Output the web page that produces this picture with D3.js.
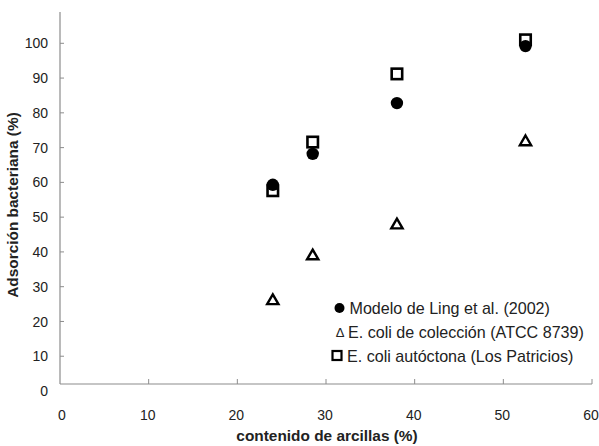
<!DOCTYPE html>
<html>
<head>
<meta charset="utf-8">
<script src="https://cdn.jsdelivr.net/npm/d3@7/dist/d3.min.js"></script>
<style>
  body { margin: 0; background: #fff; }
  text { font-family: "Liberation Sans", Arial, sans-serif; fill: #222; }
</style>
</head>
<body>
<div id="chart"></div>
<script>
// data
var arcilla = [24, 28.5, 38, 52.5];
var ling = [59.3, 68.2, 82.8, 99.2];
var atcc = [26.2, 39.1, 48, 71.9];
var patricios = [57.6, 71.6, 91.2, 101];
var xTicks = [0, 10, 20, 30, 40, 50, 60];
var yTicks = [0, 10, 20, 30, 40, 50, 60, 70, 80, 90, 100];
var seriesNames = ["Modelo de Ling et al. (2002)", "E. coli de colección (ATCC 8739)", "E. coli autóctona (Los Patricios)"];

var width = 599, height = 446;
var svg = d3.select("#chart").append("svg")
  .attr("width", width)
  .attr("height", height);

var x = d3.scaleLinear().domain([0, 60]).range([60, 592]);
var y = d3.scaleLinear().domain([0, 100]).range([391, 43.3]);

var axisColor = "#8c8c8c";

// y axis (line + inside ticks)
svg.append("line")
  .attr("x1", x(0)).attr("x2", x(0))
  .attr("y1", 12).attr("y2", 384)
  .attr("stroke", axisColor).attr("stroke-width", 1.2);

svg.selectAll(".ytick")
  .data(yTicks.filter(function (d) { return d > 0; }))
  .enter().append("line")
  .attr("x1", x(0)).attr("x2", x(0) + 4)
  .attr("y1", function (d) { return y(d); })
  .attr("y2", function (d) { return y(d); })
  .attr("stroke", axisColor);

svg.selectAll(".ylab")
  .data(yTicks)
  .enter().append("text")
  .attr("x", 48)
  .attr("y", function (d) { return y(d); })
  .attr("dy", "0.36em")
  .attr("text-anchor", "end")
  .style("font-size", "14px")
  .text(function (d) { return d; });

// x axis sits a bit above zero, as in the original
svg.append("line")
  .attr("x1", x(0)).attr("x2", x(60))
  .attr("y1", 384).attr("y2", 384)
  .attr("stroke", axisColor).attr("stroke-width", 1.2);

svg.selectAll(".xtick")
  .data(xTicks.filter(function (d) { return d > 0; }))
  .enter().append("line")
  .attr("x1", function (d) { return x(d); })
  .attr("x2", function (d) { return x(d); })
  .attr("y1", 384).attr("y2", 379)
  .attr("stroke", axisColor);

svg.selectAll(".xlab")
  .data(xTicks)
  .enter().append("text")
  .attr("x", function (d) { return d == 0 ? x(d) + 2 : x(d) - 1; })
  .attr("y", 415)
  .attr("dy", "0.36em")
  .attr("text-anchor", "middle")
  .style("font-size", "14px")
  .text(function (d) { return d; });

// axis titles
svg.append("text")
  .attr("x", 327)
  .attr("y", 441)
  .attr("text-anchor", "middle")
  .style("font-size", "15.4px")
  .style("font-weight", "bold")
  .text("contenido de arcillas (%)");

svg.append("text")
  .attr("transform", "translate(18,205) rotate(-90)")
  .attr("text-anchor", "middle")
  .style("font-size", "15.4px")
  .style("font-weight", "bold")
  .text("Adsorción bacteriana (%)");

// squares (E. coli autóctona)
var sq = 10.5;
svg.selectAll(".sq")
  .data(arcilla)
  .enter().append("rect")
  .attr("x", function (d) { return x(d) - sq / 2; })
  .attr("y", function (d, i) { return y(patricios[i]) - sq / 2; })
  .attr("width", sq).attr("height", sq)
  .attr("fill", "none")
  .attr("stroke", "#000")
  .attr("stroke-width", 2.6);

// circles (Ling model)
svg.selectAll(".dot")
  .data(arcilla)
  .enter().append("circle")
  .attr("cx", function (d) { return x(d); })
  .attr("cy", function (d, i) { return y(ling[i]); })
  .attr("r", 6.2)
  .attr("fill", "#000");

// triangles (ATCC)
var tri = d3.symbol().type(d3.symbolTriangle).size(55);
svg.selectAll(".tri")
  .data(arcilla)
  .enter().append("path")
  .attr("d", tri)
  .attr("transform", function (d, i) {
    return "translate(" + x(d) + "," + (y(atcc[i]) + 1) + ")";
  })
  .attr("fill", "none")
  .attr("stroke", "#000")
  .attr("stroke-width", 2.4)
  .attr("stroke-linejoin", "miter");

// legend
var legY = [308, 332, 356];
svg.append("circle")
  .attr("cx", 339.5).attr("cy", legY[0])
  .attr("r", 5).attr("fill", "#000");
svg.append("text")
  .attr("x", 340).attr("y", legY[1])
  .attr("dy", "0.36em")
  .attr("text-anchor", "middle")
  .style("font-size", "13px")
  .text("Δ");
svg.append("rect")
  .attr("x", 332.5).attr("y", legY[2] - 5)
  .attr("width", 9).attr("height", 9)
  .attr("fill", "none")
  .attr("stroke", "#000")
  .attr("stroke-width", 2.2);

var legX = [349.5, 348, 347];
svg.selectAll(".leg")
  .data(seriesNames)
  .enter().append("text")
  .attr("x", function (d, i) { return legX[i]; })
  .attr("y", function (d, i) { return legY[i]; })
  .attr("dy", "0.36em")
  .style("font-size", "16.1px")
  .text(function (d) { return d; });
</script>
</body>
</html>
